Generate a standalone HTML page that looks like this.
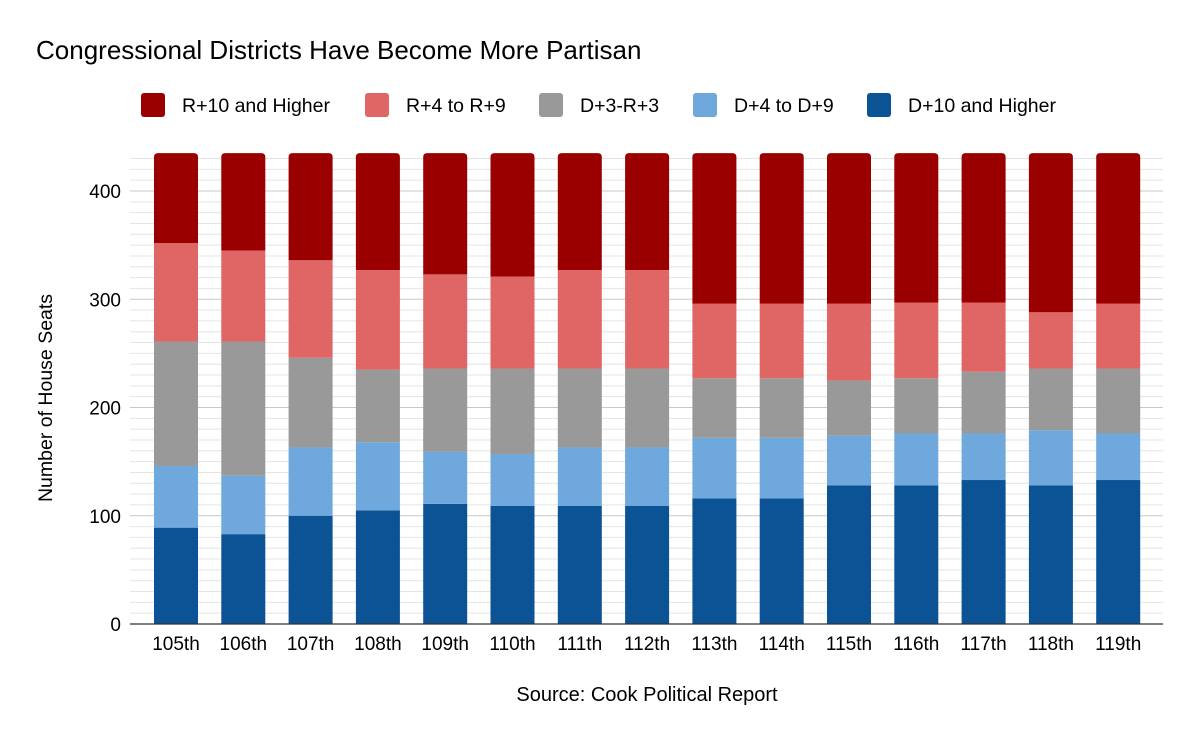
<!DOCTYPE html>
<html><head><meta charset="utf-8"><style>
body{margin:0;background:#fff;font-family:"Liberation Sans",Arial,sans-serif}
svg text{font-family:"Liberation Sans",Arial,sans-serif}
</style></head><body>
<svg id="c" width="1200" height="742" xmlns="http://www.w3.org/2000/svg">
<rect width="1200" height="742" fill="#fff"/>
<text x="36" y="59" font-size="26" fill="#000">Congressional Districts Have Become More Partisan</text>
<g id="legend"></g>
<g id="grid"></g>
<g id="bars"></g>
<g id="axes"></g>
<text transform="translate(52,398) rotate(-90)" text-anchor="middle" font-size="19.5">Number of House Seats</text>
<text x="647" y="701" text-anchor="middle" font-size="20">Source: Cook Political Report</text>
</svg>
<script>
const categories=["105th","106th","107th","108th","109th","110th","111th","112th","113th","114th","115th","116th","117th","118th","119th"];
const d10=[89,83,100,105,111,109,109,109,116,116,128,128,133,128,133];
const d4=[57,54,63,63,48,48,54,54,56,56,46,48,43,51,43];
const even=[115,124,83,67,77,79,73,73,55,55,51,51,57,57,60];
const r4=[91,84,90,92,87,85,91,91,69,69,71,70,64,52,60];
const r10=[83,90,99,108,112,114,108,108,139,139,139,138,138,147,139];
const seriesNames=["R+10 and Higher","R+4 to R+9","D+3-R+3","D+4 to D+9","D+10 and Higher"];
const yTicks=[0,100,200,300,400];
const colors=["#9a0000","#e06666","#999999","#6fa8dc","#0b5394"];
const NS="http://www.w3.org/2000/svg";
const y0=624,k=1.0825,x0=176,step=67.3,bw=44;
const Y=v=>y0-v*k, X=i=>x0+i*step;
function mk(tag,attrs,parent){const e=document.createElementNS(NS,tag);for(const a in attrs)e.setAttribute(a,attrs[a]);parent.appendChild(e);return e;}
const grid=document.getElementById('grid');
for(let v=10;v<=430;v+=10){
  const l=mk('line',{x1:130,x2:1163,y1:Y(v),y2:Y(v),stroke:v%100?'#e4e4e4':'#c8c8c8','stroke-width':1},grid);
  
  
}
const axes=document.getElementById('axes');
yTicks.forEach(v=>{
  const t=mk('text',{x:121,y:Y(v)+7,'text-anchor':'end','font-size':19},axes);
  t.textContent=v;
  
  
});
const al=mk('line',{x1:130,x2:1163,y1:y0,y2:y0,stroke:'#333','stroke-width':1.3},axes);


const bars=document.getElementById('bars');
const stack=[d10,d4,even,r4,r10];
categories.forEach((c,i)=>{
  let base=0;
  stack.forEach((s,j)=>{
    const v=s[i],col=colors[4-j];
    const top=Y(base+v),bot=Y(base);
    let el;
    if(j===4){
      const x=X(i)-bw/2,r=4;
      el=mk('path',{d:`M${x},${bot}V${top+r}Q${x},${top} ${x+r},${top}H${x+bw-r}Q${x+bw},${top} ${x+bw},${top+r}V${bot}Z`,fill:col},bars);
    } else el=mk('rect',{x:X(i)-bw/2,y:top,width:bw,height:bot-top,fill:col},bars);
    
    
    base+=v;
  });
  const t=mk('text',{x:X(i),y:650,'text-anchor':'middle','font-size':19},axes);
  t.textContent=c;
  
  
});
const lg=document.getElementById('legend');
const lx=[141,365,539,693,867];
seriesNames.forEach((n,i)=>{
  const r=mk('rect',{x:lx[i],y:93,width:24,height:24,rx:3,fill:colors[i]},lg);
  
  
  const t=mk('text',{x:lx[i]+41,y:112,'font-size':19.5},lg);
  t.textContent=n;
  
  
});
</script>
</body></html>
